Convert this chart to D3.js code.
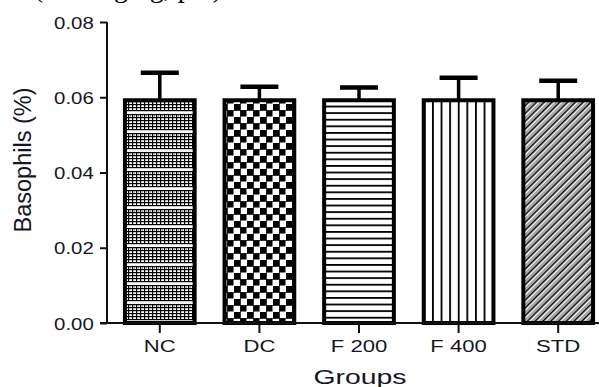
<!DOCTYPE html>
<html>
<head>
<meta charset="utf-8">
<script src="https://cdn.jsdelivr.net/npm/d3@7"></script>
<style>
  body { margin: 0; background: #fff; }
  svg { display: block; }
  text { font-family: "Liberation Sans", Arial, sans-serif; fill: #15151f; }
</style>
</head>
<body>
<svg id="chart"></svg>
<script>
// data
const groups = ["NC", "DC", "F 200", "F 400", "STD"];
const means = [0.0592, 0.0592, 0.0592, 0.0592, 0.0592];
const sds = [0.0073, 0.0036, 0.0034, 0.0060, 0.0052];
const yTicks = [0.00, 0.02, 0.04, 0.06, 0.08];
const fills = ["pNC", "pDC", "pF200", "pF400", "pSTD"];

const width = 599, height = 387;
const margin = { top: 22, right: 0, bottom: 64, left: 107 };

const svg = d3.select("#chart")
  .attr("width", width)
  .attr("height", height);

// patterns
const defs = svg.append("defs");

// NC: fine lattice with white bands
const pNC = defs.append("pattern").attr("id", "pNC")
  .attr("patternUnits", "userSpaceOnUse").attr("width", 4).attr("height", 19);
pNC.append("rect").attr("width", 4).attr("height", 19).attr("fill", "#fff");
for (let yy = 0; yy < 16; yy += 3) {
  pNC.append("rect").attr("x", 0).attr("y", yy).attr("width", 4).attr("height", 1.2).attr("fill", "#000");
}
pNC.append("rect").attr("x", 0).attr("y", 0).attr("width", 1.2).attr("height", 16).attr("fill", "#000");
pNC.append("rect").attr("x", 2).attr("y", 1.5).attr("width", 1).attr("height", 1).attr("fill", "#555");

// DC: checkerboard
const pDC = defs.append("pattern").attr("id", "pDC")
  .attr("patternUnits", "userSpaceOnUse").attr("width", 13).attr("height", 13);
pDC.append("rect").attr("width", 13).attr("height", 13).attr("fill", "#fff");
pDC.append("rect").attr("x", 0).attr("y", 0).attr("width", 6).attr("height", 6).attr("fill", "#000");
pDC.append("rect").attr("x", 6.5).attr("y", 6.5).attr("width", 6).attr("height", 6).attr("fill", "#000");
pDC.append("rect").attr("x", 0).attr("y", 6).attr("width", 13).attr("height", 0.8).attr("fill", "#000");
pDC.append("rect").attr("x", 6).attr("y", 0).attr("width", 0.8).attr("height", 13).attr("fill", "#000");

// F 200: horizontal lines
const pF200 = defs.append("pattern").attr("id", "pF200")
  .attr("patternUnits", "userSpaceOnUse").attr("width", 10).attr("height", 6.6);
pF200.append("rect").attr("width", 10).attr("height", 6.6).attr("fill", "#fff");
pF200.append("rect").attr("y", 0).attr("width", 10).attr("height", 1.8).attr("fill", "#000");

// F 400: vertical lines
const pF400 = defs.append("pattern").attr("id", "pF400")
  .attr("patternUnits", "userSpaceOnUse").attr("width", 8.6).attr("height", 10)
  .attr("x", 2);
pF400.append("rect").attr("width", 8.6).attr("height", 10).attr("fill", "#fff");
pF400.append("rect").attr("x", 0).attr("width", 1.8).attr("height", 10).attr("fill", "#000");

// STD: diagonal lines with dotted gray between
const pSTD = defs.append("pattern").attr("id", "pSTD")
  .attr("patternUnits", "userSpaceOnUse").attr("width", 10).attr("height", 5.5)
  .attr("patternTransform", "rotate(-45)");
pSTD.append("rect").attr("width", 10).attr("height", 5.5).attr("fill", "#a4a4a4");
pSTD.append("rect").attr("y", 0).attr("width", 10).attr("height", 1.5).attr("fill", "#000");
pSTD.append("rect").attr("y", 1.5).attr("width", 10).attr("height", 1.3).attr("fill", "#fff");

// scales
const x = d3.scaleBand()
  .domain(groups)
  .range([110, 608])
  .paddingInner(0.3)
  .paddingOuter(0.15);

const y = d3.scaleLinear()
  .domain([0, 0.08])
  .range([height - margin.bottom, margin.top]);

// partial caption cut off at the top
svg.append("text")
  .attr("x", 222)
  .attr("y", -3)
  .attr("text-anchor", "end")
  .style("font-family", "'Liberation Serif', 'Times New Roman', serif")
  .style("font-size", "28px")
  .style("fill", "#000")
  .text("(200 mg/kg, p.o)");

// bars
svg.selectAll(".bar")
  .data(groups)
  .enter()
  .append("rect")
  .attr("class", "bar")
  .attr("x", d => x(d))
  .attr("width", x.bandwidth())
  .attr("y", (d, i) => y(means[i]))
  .attr("height", (d, i) => y(0) - y(means[i]))
  .attr("fill", (d, i) => `url(#${fills[i]})`)
  .attr("stroke", "#000")
  .attr("stroke-width", 4);

// error bars (upper only)
const err = svg.append("g");
groups.forEach((g, i) => {
  const cx = x(g) + x.bandwidth() / 2;
  err.append("line")
    .attr("x1", cx).attr("x2", cx)
    .attr("y1", y(means[i])).attr("y2", y(means[i] + sds[i]))
    .attr("stroke", "#000").attr("stroke-width", 3.5);
  err.append("line")
    .attr("x1", cx - 19).attr("x2", cx + 19)
    .attr("y1", y(means[i] + sds[i])).attr("y2", y(means[i] + sds[i]))
    .attr("stroke", "#000").attr("stroke-width", 4.5);
});

// y axis
const yAxis = svg.append("g")
  .attr("transform", `translate(${margin.left},0)`)
  .call(d3.axisLeft(y).tickValues(yTicks).tickFormat(d3.format(".2f")).tickSize(7).tickPadding(5));
yAxis.select(".domain").attr("stroke", "#111").attr("stroke-width", 2).attr("d", `M0,${y(0.08)}V${y(0)}`);
yAxis.selectAll(".tick line").attr("stroke", "#111").attr("stroke-width", 2);
yAxis.selectAll(".tick text")
  .style("font-size", "17px")
  .attr("transform", "scale(1.2,1)")
  .attr("x", -11)
  .attr("dy", "0.36em");

// x axis
const xAxis = svg.append("g")
  .attr("transform", `translate(0,${y(0)})`)
  .call(d3.axisBottom(x).tickSize(10).tickPadding(6));
xAxis.select(".domain").attr("stroke", "#111").attr("stroke-width", 2).attr("d", `M${margin.left - 7},0H${width}`);
xAxis.selectAll(".tick line").attr("stroke", "#111").attr("stroke-width", 2);
xAxis.selectAll(".tick text")
  .style("font-size", "17px")
  .attr("y", 0)
  .attr("dy", 0)
  .attr("transform", "translate(0,29) scale(1.3,1)");

// axis titles
svg.append("text")
  .attr("transform", `translate(31,160) rotate(-90)`)
  .attr("text-anchor", "middle")
  .style("font-size", "23.5px")
  .text("Basophils (%)");

svg.append("text")
  .attr("transform", `translate(360,384) scale(1.35,1)`)
  .attr("text-anchor", "middle")
  .style("font-size", "21px")
  .text("Groups");
</script>
</body>
</html>
